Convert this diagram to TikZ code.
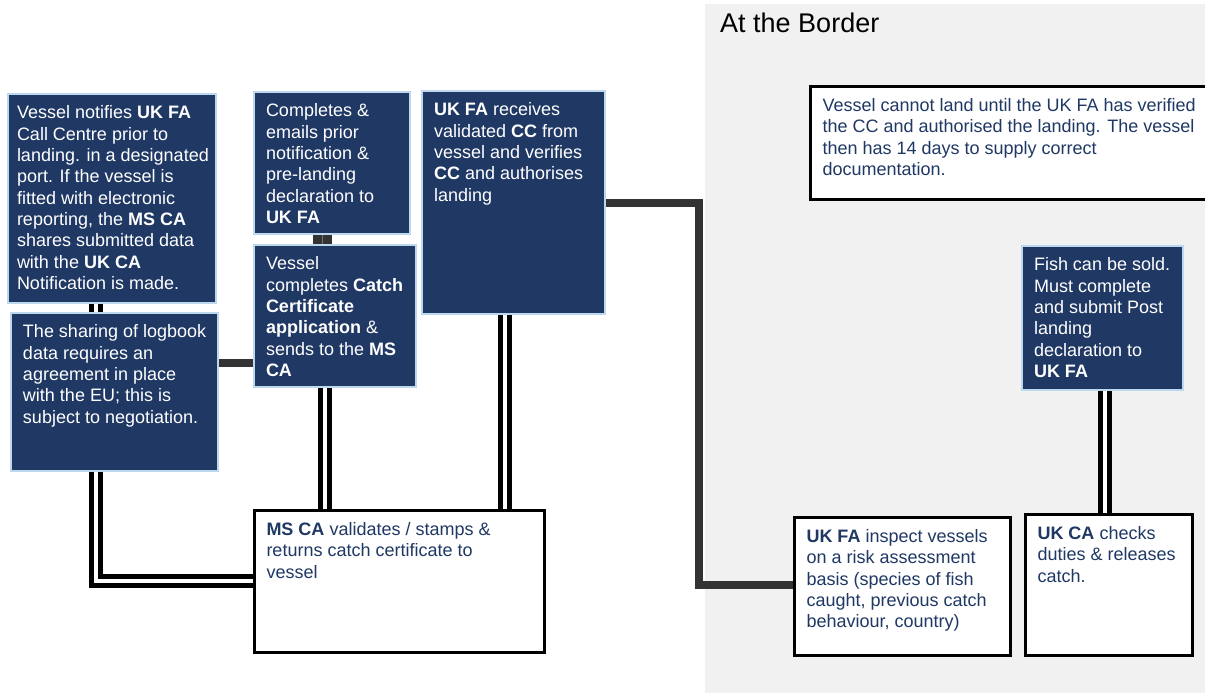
\documentclass[tikz,border=0pt]{standalone}
\usepackage{fontspec}
\setmainfont{Liberation Sans}
\definecolor{navy}{HTML}{203864}
\definecolor{lblue}{HTML}{BDD7EE}
\definecolor{ntext}{HTML}{1F3864}
\definecolor{panelgray}{HTML}{F1F1F1}
\definecolor{conngray}{HTML}{333333}
\newcommand{\bxt}[3]{\parbox[t][\dimexpr #2pt-20pt\relax][t]{\dimexpr #1pt-24pt\relax}{\begin{tabular}[t]{@{}l@{}}#3\end{tabular}}}
\tikzset{
  basefont/.style={font=\fontsize{18}{21.3}\selectfont},
  navybox/.style={basefont, fill=navy, draw=lblue, line width=2pt, inner xsep=12pt, inner ysep=10pt, anchor=north west, text=white},
  whitebox/.style={basefont, fill=white, draw=black, line width=3pt, inner xsep=12pt, inner ysep=10pt, anchor=north west, text=ntext},
  dbl/.style={draw=black, line width=5pt, double=white, double distance=4pt},
  thickconn/.style={draw=conngray, line width=8pt},
  shortconn/.style={draw=conngray, line width=9pt, double=black!55, double distance=1pt},
}
\begin{document}
\begin{tikzpicture}[x=1pt, y=-1pt]
\useasboundingbox (0,0) rectangle (1205,693);
\fill[panelgray] (705,4) rectangle (1205,693);
\node[anchor=base west, inner sep=0pt, font=\fontsize{27}{32}\selectfont] (title) at (720,33) {At the Border};

\node[navybox] (b1) at (7,93) {\hspace*{-3pt}\bxt{211}{209}{Vessel notifies \textbf{UK FA}\\ Call Centre prior to\\ landing. in a designated\\ port. If the vessel is\\ fitted with electronic\\ reporting, the \textbf{MS CA}\\ shares submitted data\\ with the \textbf{UK CA}\\ Notification is made.}};
\node[navybox] (b2) at (10,312) {\bxt{207}{158}{The sharing of logbook\\ data requires an\\ agreement in place\\ with the EU; this is\\ subject to negotiation.}};
\node[navybox] (b3) at (253,91) {\bxt{156}{142}{Completes \&\\ emails prior\\ notification \&\\ pre-landing\\ declaration to\\ \textbf{UK FA}}};
\node[navybox] (b4) at (253,244) {\bxt{162}{142}{Vessel\\ completes \textbf{Catch}\\ \textbf{Certificate}\\ \textbf{application} \&\\ sends to the \textbf{MS}\\ \textbf{CA}}};
\node[navybox] (b5) at (421,90) {\bxt{183}{223}{\textbf{UK FA} receives\\ validated \textbf{CC} from\\ vessel and verifies\\ \textbf{CC} and authorises\\ landing}};
\node[whitebox] (ms) at (253,509) {\bxt{290}{142}{\textbf{MS CA} validates / stamps \&\\ returns catch certificate to\\ vessel}};
\node[whitebox] (b7) at (809,85) {\bxt{401}{113}{Vessel cannot land until the UK FA has verified\\ the CC and authorised the landing. The vessel\\ then has 14 days to supply correct\\ documentation.}};
\node[navybox] (b8) at (1021,245) {\bxt{161}{144}{Fish can be sold.\\ Must complete\\ and submit Post\\ landing\\ declaration to\\ \textbf{UK FA}}};
\node[whitebox] (b9) at (793,516) {\bxt{216}{138}{\textbf{UK FA} inspect vessels\\ on a risk assessment\\ basis (species of fish\\ caught, previous catch\\ behaviour, country)}};
\node[whitebox] (b10) at (1024,513) {\bxt{167}{141}{\textbf{UK CA} checks\\ duties \& releases\\ catch.}};

\coordinate (x1) at (95.8,0);
\coordinate (x2) at (325,0);
\coordinate (x3) at (505,0);
\coordinate (x4) at (1105,0);
\coordinate (x5) at (698.5,0);
\coordinate (x6) at (322.5,0);
\coordinate (y1) at (0,581);
\coordinate (y2) at (0,363);
\coordinate (y3) at (0,202.5);
\coordinate (y4) at (0,585);

\draw[dbl] (b1.south -| x1) -- (b2.north -| x1);
\draw[dbl, line join=miter] (b2.south -| x1) |- (ms.west |- y1);
\draw[dbl] (b4.south -| x2) -- (ms.north -| x2);
\draw[dbl] (b5.south -| x3) -- (ms.north -| x3);
\draw[dbl] (b8.south -| x4) -- (b10.north -| x4);
\draw[shortconn] (b3.south -| x6) -- (b4.north -| x6);
\draw[thickconn] (b2.east |- y2) -- (b4.west |- y2);
\draw[thickconn, line join=miter] (b5.east |- y3) -| (x5 |- y4) -- (b9.west |- y4);
\end{tikzpicture}
\end{document}
